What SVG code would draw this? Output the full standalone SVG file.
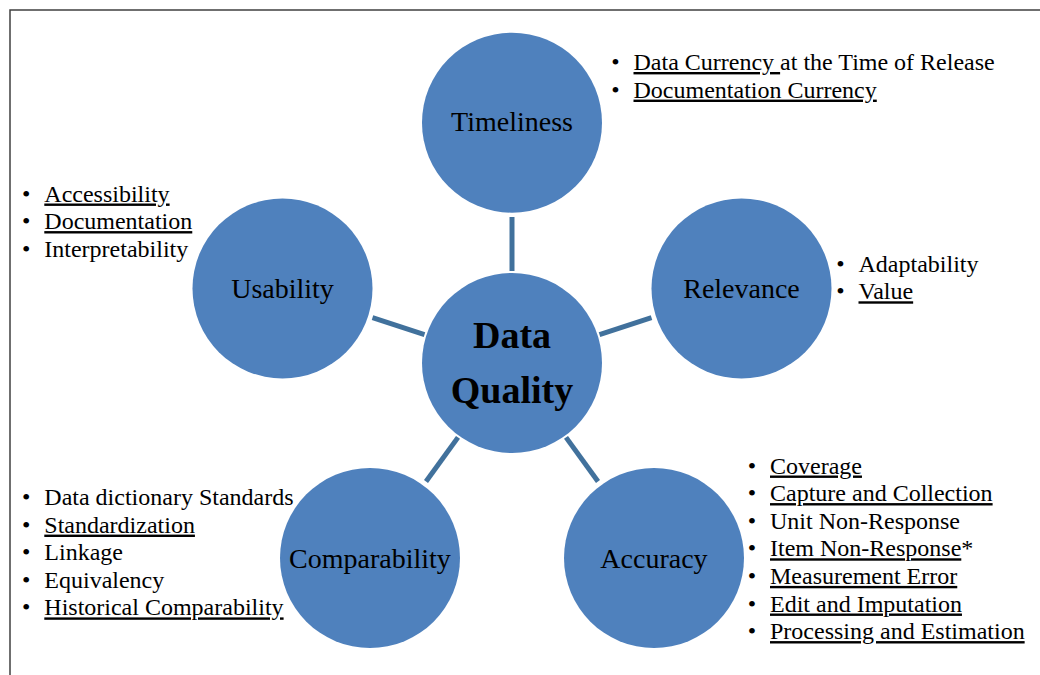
<svg xmlns="http://www.w3.org/2000/svg" width="1040" height="675" viewBox="0 0 1040 675">
<style>
.node circle{fill:#4F81BD}
.lbl{font-family:"Liberation Serif","Times New Roman",serif;font-size:28px;fill:#000;text-anchor:middle}
.core{font-family:"Liberation Serif","Times New Roman",serif;font-size:38px;font-weight:bold;fill:#000;text-anchor:middle}
.li{font-family:"Liberation Serif","Times New Roman",serif;font-size:24px;fill:#000}
.b{font-family:"Liberation Serif","Times New Roman",serif;font-size:24px;fill:#000;text-anchor:middle}
.u{text-decoration:underline}
#connectors line{stroke:#41719C;stroke-width:5}
</style>
<rect width="1040" height="675" fill="#fff"/>
<path d="M10,675 V10 H1040" fill="none" stroke="#404040" stroke-width="1.5"/>
<g id="connectors">
<line x1="512" y1="271" x2="512" y2="217"/>
<line x1="599.5" y1="334.6" x2="651.5" y2="317.7"/>
<line x1="424.5" y1="334.6" x2="372.5" y2="317.7"/>
<line x1="566" y1="437.4" x2="598" y2="481.5"/>
<line x1="458" y1="437.4" x2="426" y2="481.5"/>
</g>
<g id="data-quality" class="node">
<circle cx="512" cy="363" r="90"/>
<text class="core" x="512" y="348">Data</text>
<text class="core" x="512" y="403">Quality</text>
</g>
<g id="timeliness" class="node">
<circle cx="512" cy="122.7" r="90"/>
<text class="lbl" x="512" y="131">Timeliness</text>
</g>
<g id="relevance" class="node">
<circle cx="741.5" cy="288.5" r="90"/>
<text class="lbl" x="741.5" y="297.7">Relevance</text>
</g>
<g id="usability" class="node">
<circle cx="282.5" cy="288.5" r="90"/>
<text class="lbl" x="282.5" y="297.7">Usability</text>
</g>
<g id="accuracy" class="node">
<circle cx="654" cy="558" r="90"/>
<text class="lbl" x="654" y="567.5">Accuracy</text>
</g>
<g id="comparability" class="node">
<circle cx="370" cy="558" r="90"/>
<text class="lbl" x="370" y="567.5">Comparability</text>
</g>
<g id="timeliness-list">
<text class="b" x="615.5" y="70">•</text>
<text class="li" x="633.5" y="70"><tspan class="u" xml:space="preserve">Data Currency </tspan><tspan>at the Time of Release</tspan></text>
<text class="b" x="615.5" y="97.6">•</text>
<text class="li u" x="633.5" y="97.6">Documentation Currency</text>
</g>
<g id="relevance-list">
<text class="b" x="840.5" y="271.7">•</text>
<text class="li" x="858.5" y="271.7">Adaptability</text>
<text class="b" x="840.5" y="299.3">•</text>
<text class="li u" x="858.5" y="299.3">Value</text>
</g>
<g id="usability-list">
<text class="b" x="26.3" y="201.5">•</text>
<text class="li u" x="44.3" y="201.5">Accessibility</text>
<text class="b" x="26.3" y="229.1">•</text>
<text class="li u" x="44.3" y="229.1">Documentation</text>
<text class="b" x="26.3" y="256.7">•</text>
<text class="li" x="44.3" y="256.7">Interpretability</text>
</g>
<g id="comparability-list">
<text class="b" x="26.3" y="505">•</text>
<text class="li" x="44.3" y="505">Data dictionary Standards</text>
<text class="b" x="26.3" y="532.6">•</text>
<text class="li u" x="44.3" y="532.6">Standardization</text>
<text class="b" x="26.3" y="560.2">•</text>
<text class="li" x="44.3" y="560.2">Linkage</text>
<text class="b" x="26.3" y="587.8">•</text>
<text class="li" x="44.3" y="587.8">Equivalency</text>
<text class="b" x="26.3" y="615.4">•</text>
<text class="li u" x="44.3" y="615.4">Historical Comparability</text>
</g>
<g id="accuracy-list">
<text class="b" x="752" y="473.5">•</text>
<text class="li u" x="770" y="473.5">Coverage</text>
<text class="b" x="752" y="501.1">•</text>
<text class="li u" x="770" y="501.1">Capture and Collection</text>
<text class="b" x="752" y="528.7">•</text>
<text class="li" x="770" y="528.7">Unit Non-Response</text>
<text class="b" x="752" y="556.3">•</text>
<text class="li" x="770" y="556.3"><tspan class="u">Item Non-Response</tspan>*</text>
<text class="b" x="752" y="583.9">•</text>
<text class="li u" x="770" y="583.9">Measurement Error</text>
<text class="b" x="752" y="611.5">•</text>
<text class="li u" x="770" y="611.5">Edit and Imputation</text>
<text class="b" x="752" y="639.1">•</text>
<text class="li u" x="770" y="639.1">Processing and Estimation</text>
</g>
</svg>
